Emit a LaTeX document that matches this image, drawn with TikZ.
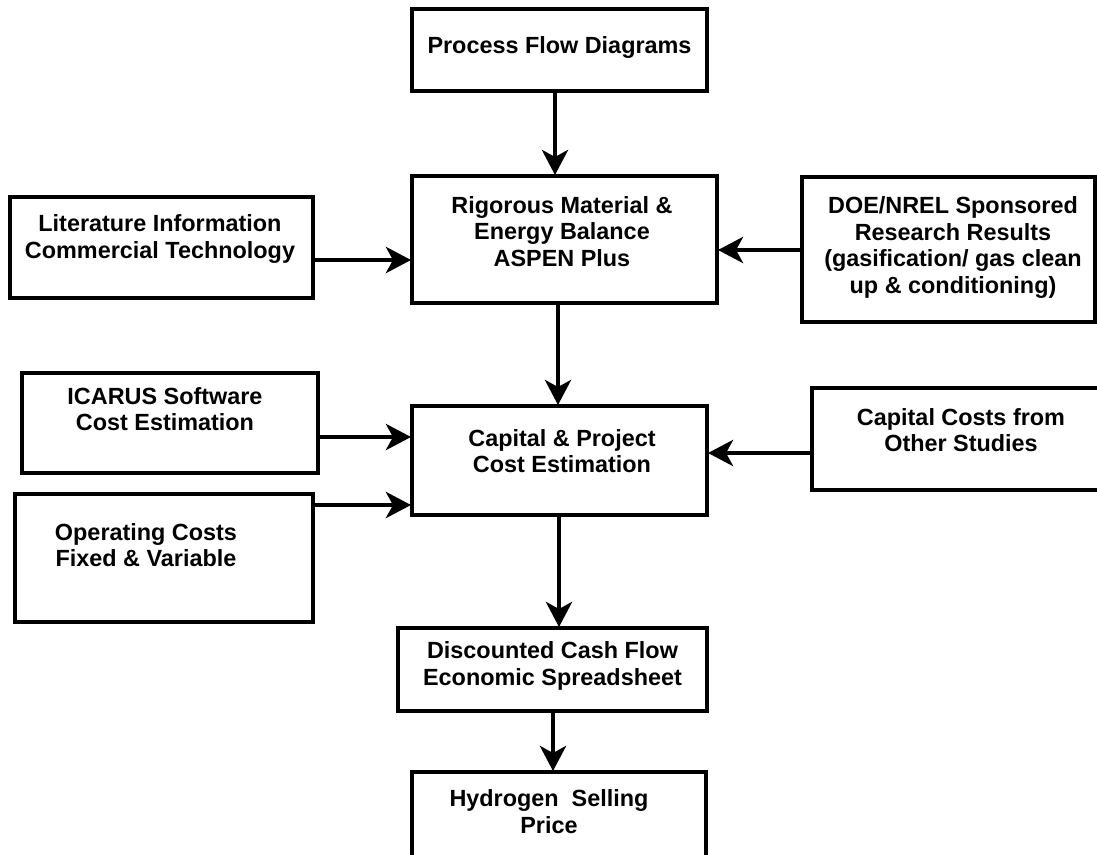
\documentclass[tikz,border=0pt]{standalone}
\usepackage{fontspec}
\setmainfont{Liberation Sans}
\usetikzlibrary{arrows.meta}
\begin{document}
\begin{tikzpicture}[x=1pt,y=-1pt,
  box/.style={draw=black, line width=4pt, inner sep=0pt, outer sep=0pt},
  txt/.style={font=\fontsize{23.4}{26.5}\selectfont\bfseries, align=center,
              inner sep=0pt, text depth=0pt},
  arr/.style={line width=4.5pt, shorten >=1pt,
              -{Stealth[length=25pt,width=26pt,inset=7pt]}}]
\path[use as bounding box] (0,0) rectangle (1097,854);
\fill[white] (0,0) rectangle (1097,854);
\clip (0,0) rectangle (1097,854);

% boxes
\node[box, minimum width=295pt, minimum height=82pt]  (pfd) at (559.5,50)  {};
\node[box, minimum width=305pt, minimum height=127pt] (rig) at (564.5,239.5) {};
\node[box, minimum width=303pt, minimum height=101pt] (lit) at (161.5,247.5) {};
\node[box, minimum width=293pt, minimum height=145pt] (doe) at (948.5,249.5) {};
\node[box, minimum width=296pt, minimum height=100pt] (ica) at (170,423)   {};
\node[box, minimum width=295pt, minimum height=109pt] (cap) at (559.5,460.5) {};
\node[box, minimum width=298pt, minimum height=102pt] (ccs) at (961,439)   {};
\node[box, minimum width=298pt, minimum height=128pt] (opc) at (164,558)   {};
\node[box, minimum width=309pt, minimum height=83pt]  (dcf) at (552.5,669.5) {};
\node[box, minimum width=294pt, minimum height=98pt]  (hsp) at (559,821)   {};

% labels
\node[txt] (pfdt) at (559.5,45)  {Process Flow Diagrams};
\node[txt] (rigt) at (562,231.5) {Rigorous Material \&\\Energy Balance\\ASPEN Plus};
\node[txt] (litt) at (160,236.5) {Literature Information\\Commercial Technology};
\node[txt] (doet) at (953,245)   {DOE/NREL Sponsored\\Research Results\\(gasification/ gas clean\\up \& conditioning)};
\node[txt] (icat) at (165,409)   {ICARUS Software\\Cost Estimation};
\node[txt] (capt) at (562,451)   {Capital \& Project\\Cost Estimation};
\node[txt] (ccst) at (961,430)   {Capital Costs from\\Other Studies};
\node[txt] (opct) at (146,545)   {Operating Costs\\Fixed \& Variable};
\node[txt] (dcft) at (552.5,663.5) {Discounted Cash Flow\\Economic Spreadsheet};
\node[txt] (hspt) at (549,811.5) {Hydrogen\ \ Selling\\Price};

% connectors
\draw[arr] (pfd.south -| 555,0) -- (rig.north -| 555,0);
\draw[arr] (lit.east |- 0,260) -- (rig.west |- 0,260);
\draw[arr] (doe.west |- 0,250) -- (rig.east |- 0,250);
\draw[arr] (rig.south -| 558,0) -- (cap.north -| 558,0);
\draw[arr] (ica.east |- 0,437) -- (cap.west |- 0,437);
\draw[arr] (opc.east |- 0,505) -- (cap.west |- 0,505);
\draw[arr] (ccs.west |- 0,453) -- (cap.east |- 0,453);
\draw[arr] (cap.south -| 559,0) -- (dcf.north -| 559,0);
\draw[arr] (dcf.south -| 553,0) -- (hsp.north -| 553,0);
\end{tikzpicture}
\end{document}
